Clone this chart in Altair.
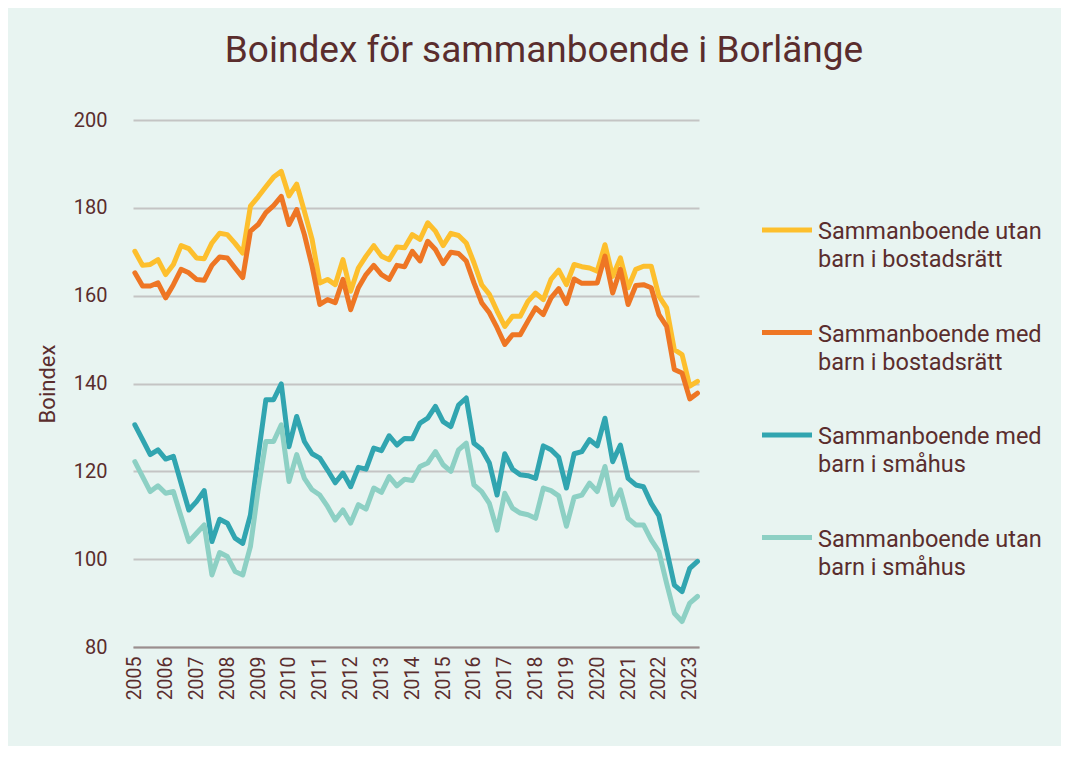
import altair as alt
import pandas as pd

title_text = "Boindex för sammanboende i Borlänge"
y_title = "Boindex"
years = list(range(2005, 2024))
y_ticks = [80, 100, 120, 140, 160, 180, 200]

series_names = [
    "Sammanboende utan barn i bostadsrätt",
    "Sammanboende med barn i bostadsrätt",
    "Sammanboende med barn i småhus",
    "Sammanboende utan barn i småhus",
]
legend_lines = [
    ["Sammanboende utan", "barn i bostadsrätt"],
    ["Sammanboende med", "barn i bostadsrätt"],
    ["Sammanboende med", "barn i småhus"],
    ["Sammanboende utan", "barn i småhus"],
]
colors = ["#FDBF2D", "#EE7624", "#31A5B0", "#8DD0C4"]

# Quarterly values, 2005 Q1 .. 2023 Q2
utan_barn_br = [
    170.1, 166.9, 167.1, 168.2, 164.8, 167.1, 171.4, 170.7, 168.6, 168.4,
    172.0, 174.2, 173.9, 171.9, 169.7, 180.4, 182.5, 184.8, 187.0, 188.3,
    182.7, 185.4, 179.2, 172.8, 162.9, 163.7, 162.5, 168.2, 161.0, 166.3,
    169.0, 171.4, 169.0, 168.2, 171.1, 170.9, 173.9, 172.8, 176.6, 174.7,
    171.4, 174.2, 173.7, 172.0, 167.5, 162.5, 160.3, 156.5, 153.0, 155.3,
    155.3, 158.7, 160.6, 159.1, 163.7, 165.8, 162.5, 167.1, 166.6, 166.3,
    165.6, 171.6, 164.4, 168.6, 161.8, 166.0, 166.7, 166.7, 159.9, 157.2,
    147.7, 146.6, 139.4, 140.5,
]
med_barn_br = [
    165.2, 162.2, 162.2, 162.9, 159.5, 162.5, 166.0, 165.2, 163.7, 163.5,
    166.9, 168.8, 168.6, 166.3, 164.1, 174.7, 176.2, 178.9, 180.5, 182.6,
    176.2, 179.6, 173.9, 166.7, 158.0, 159.1, 158.4, 163.7, 156.8, 161.8,
    164.8, 166.9, 164.8, 163.7, 166.9, 166.6, 170.1, 167.9, 172.4, 170.5,
    167.3, 169.9, 169.6, 167.9, 162.9, 158.4, 156.1, 152.7, 148.9, 151.1,
    151.1, 154.2, 157.2, 155.7, 159.5, 161.6, 158.2, 163.8, 162.8, 162.8,
    162.9, 169.0, 160.6, 166.0, 158.0, 162.3, 162.5, 161.8, 155.7, 153.0,
    143.2, 142.4, 136.5, 137.8,
]
med_barn_smahus = [
    130.6, 127.2, 123.8, 124.9, 122.8, 123.4, 117.3, 111.2, 113.1, 115.6,
    104.0, 109.1, 108.2, 104.8, 103.6, 110.1, 123.4, 136.3, 136.3, 139.9,
    125.6, 132.5, 126.8, 124.0, 123.0, 120.3, 117.4, 119.6, 116.5, 120.9,
    120.5, 125.3, 124.7, 128.1, 126.0, 127.5, 127.4, 131.0, 132.1, 134.8,
    131.3, 130.2, 135.1, 136.7, 126.4, 125.0, 121.9, 114.6, 124.0, 120.5,
    119.2, 119.0, 118.4, 125.8, 124.9, 123.2, 116.2, 124.0, 124.5, 127.2,
    125.8, 132.1, 122.2, 126.0, 118.4, 116.9, 116.5, 112.7, 109.9, 102.1,
    94.1, 92.6, 97.9, 99.5,
]
utan_barn_smahus = [
    122.2, 118.8, 115.4, 116.7, 115.0, 115.4, 109.7, 104.0, 105.9, 107.8,
    96.4, 101.5, 100.6, 97.2, 96.4, 102.9, 115.8, 126.8, 126.8, 130.6,
    117.7, 123.8, 118.4, 115.8, 114.6, 112.0, 108.9, 111.2, 108.2, 112.4,
    111.4, 116.2, 115.2, 118.8, 116.7, 118.2, 117.9, 121.1, 121.9, 124.5,
    121.5, 120.0, 124.9, 126.4, 116.9, 115.4, 112.7, 106.6, 115.0, 111.6,
    110.5, 110.1, 109.3, 116.2, 115.6, 114.4, 107.5, 114.1, 114.6, 117.3,
    115.4, 121.1, 112.4, 115.8, 109.3, 107.8, 107.8, 104.4, 101.7, 94.5,
    87.7, 85.8, 90.0, 91.5,
]

all_series = [utan_barn_br, med_barn_br, med_barn_smahus, utan_barn_smahus]

rows = []
for k, (name, vals) in enumerate(zip(series_names, all_series)):
    for i, v in enumerate(vals):
        rows.append({"t": 2005 + i / 4, "value": v, "series": name, "k": k})
df = pd.DataFrame(rows)

TEXT = "#5A2D2D"
FONT = "Roboto"
W, H = 566, 527

lines = alt.Chart(df).mark_line(strokeWidth=5, strokeJoin="round", strokeCap="round").encode(
    x=alt.X("t:Q", scale=alt.Scale(domain=[2004.94, 2023.3], nice=False, zero=False),
            axis=alt.Axis(values=years, format="d", labelAngle=-90, labelAlign="right",
                          labelBaseline="middle", labelPadding=9, ticks=False, grid=False,
                          domain=True, domainColor="#9A8E8E", domainWidth=2,
                          labelFontSize=19.5, labelColor=TEXT, labelFont=FONT, title=None,
                          labelOverlap=False)),
    y=alt.Y("value:Q", scale=alt.Scale(domain=[80, 200], nice=False, zero=False),
            axis=alt.Axis(values=y_ticks, ticks=False, domain=False, grid=True,
                          gridColor="#C4C4C4", gridWidth=2, labelPadding=26,
                          labelFontSize=20, labelColor=TEXT, labelFont=FONT,
                          title=y_title, titleFontSize=22, titleColor=TEXT, titleFont=FONT,
                          titleFontWeight="normal", titleAngle=-90, titleX=-86, titleY=H / 2,
                          titleAlign="center", titleBaseline="middle")),
    color=alt.Color("series:N", scale=alt.Scale(domain=series_names, range=colors), legend=None),
    detail="k:N",
)

one = pd.DataFrame({"z": [0]})
layers = [lines]

layers.append(
    alt.Chart(one).mark_text(text=title_text, fontSize=37, font=FONT, color=TEXT,
                             align="center", baseline="middle").encode(
        x=alt.value(411), y=alt.value(-69))
)

for idx, (lbl, col) in enumerate(zip(legend_lines, colors)):
    yy = 110 + idx * 102.5
    layers.append(
        alt.Chart(one).mark_rule(strokeWidth=5, color=col).encode(
            x=alt.value(629), x2=alt.value(679), y=alt.value(yy))
    )
    layers.append(
        alt.Chart(one).mark_text(text=lbl, fontSize=23.5, font=FONT, color=TEXT,
                                 align="left", baseline="middle", lineHeight=28).encode(
            x=alt.value(685), y=alt.value(yy + 2))
    )

chart = alt.layer(*layers).properties(
    width=W, height=H,
    autosize=alt.AutoSizeParams(type="none"),
    padding={"left": 125, "top": 112, "right": 362, "bottom": 99},
).configure(background="#E8F4F1").configure_view(stroke=None)

chart.save("out.html", embed_options={"renderer": "svg", "actions": False})
